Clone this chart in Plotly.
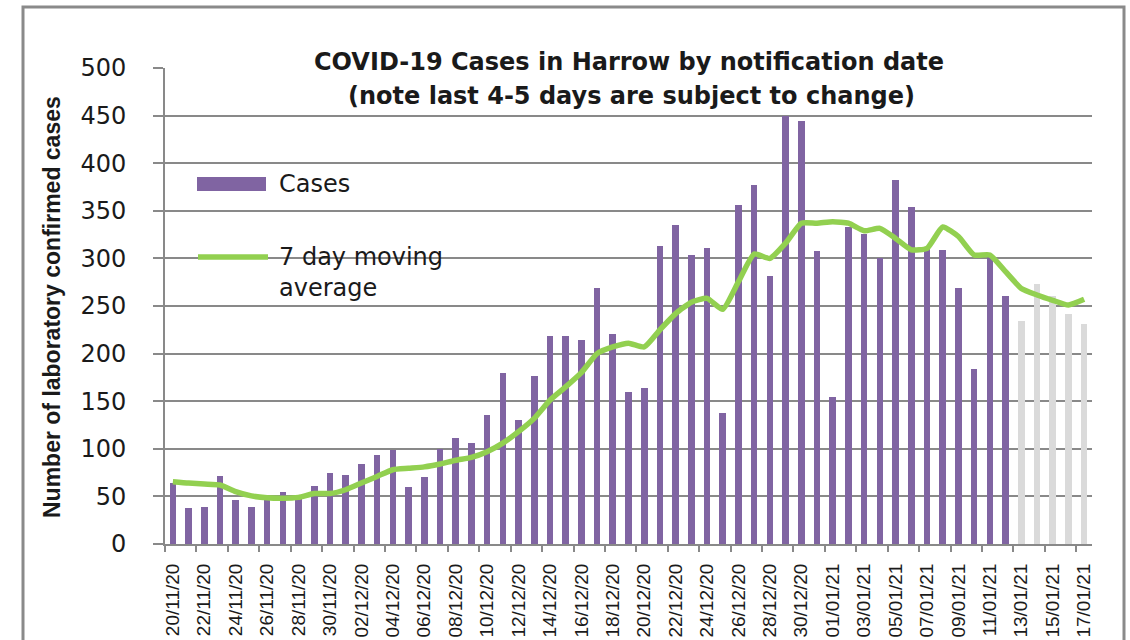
import plotly.graph_objects as go
import pandas as pd

# ---- data ----
dates = [d.strftime("%d/%m/%y") for d in pd.date_range("2020-11-20", "2021-01-17", freq="D")]
cases = [64, 38, 39, 71, 46, 39, 46, 55, 47, 61,
         75, 72, 84, 94, 99, 60, 70, 100, 111, 106,
         136, 180, 130, 177, 219, 219, 214, 269, 221, 160,
         164, 313, 335, 304, 311, 138, 356, 377, 282, 450,
         444, 308, 154, 333, 326, 300, 382, 354, 310, 309,
         269, 184, 301, 261, 234, 273, 261, 242, 231]
moving_avg = [65.5, 64, 63, 62, 55, 50.5, 48.5, 48, 49, 53,
              53, 57, 64, 71, 78, 79.5, 81, 84, 88, 91,
              97, 106, 118, 132, 151, 165, 180, 200, 207, 211,
              207, 225, 242, 254, 258, 246.5, 275.5, 304.6, 300, 316,
              337, 337, 338.6, 337, 329, 331.6, 321, 309, 310.6, 333,
              323, 303.6, 303.6, 286, 268.5, 261.6, 256, 251, 257]
n_provisional = 5
y_ticks = list(range(0, 501, 50))

title_line1 = "COVID-19 Cases in Harrow by notification date"
title_line2 = "(note last 4-5 days are subject to change)"
y_title = "Number of laboratory confirmed cases"

# ---- styles ----
PURPLE = "#8064A2"
GREYBAR = "#DADADA"
GREEN = "#92D050"
GRID = "#898989"
TXT = "#1a1a1a"

x = list(range(len(dates)))
bar_colors = [PURPLE] * (len(dates) - n_provisional) + [GREYBAR] * n_provisional

fig = go.Figure()
fig.add_trace(go.Bar(x=x, y=cases, name="Cases", marker=dict(color=bar_colors, line=dict(width=0)),
                     width=0.42, showlegend=False))
fig.add_trace(go.Scatter(x=x, y=moving_avg, name="7 day moving average", mode="lines",
                         line=dict(color=GREEN, width=5.5, shape="spline", smoothing=0.5),
                         showlegend=False))

def px_x(px):
    return (px - 165) / 927.0

def px_y(py):
    return (544 - py) / 476.0

shapes = [
    # outer chart border
    dict(type="rect", xref="paper", yref="paper", x0=px_x(23), x1=px_x(1124), y0=px_y(660), y1=px_y(7),
         line=dict(color="#8a8a8a", width=3), fillcolor="rgba(0,0,0,0)", layer="above"),
    # title background
    dict(type="rect", xref="paper", yref="paper", x0=px_x(275), x1=px_x(985), y0=px_y(110), y1=px_y(45),
         line=dict(width=0), fillcolor="white", layer="between"),
    # legend background
    dict(type="rect", xref="paper", yref="paper", x0=px_x(177), x1=px_x(487), y0=px_y(348), y1=px_y(166),
         line=dict(width=0), fillcolor="white", layer="between"),
    # legend swatches
    dict(type="rect", xref="paper", yref="paper", x0=px_x(197), x1=px_x(266), y0=px_y(191), y1=px_y(177),
         line=dict(width=0), fillcolor=PURPLE, layer="above"),
    dict(type="line", xref="paper", yref="paper", x0=px_x(198), x1=px_x(268), y0=px_y(257), y1=px_y(257),
         line=dict(color=GREEN, width=5.5), layer="above"),
]

annotations = [
    dict(text="<b>%s</b>" % title_line1, xref="paper", yref="paper", x=px_x(629), y=px_y(62),
         xanchor="center", yanchor="middle", showarrow=False,
         font=dict(family="DejaVu Sans", size=24, color=TXT)),
    dict(text="<b>%s</b>" % title_line2, xref="paper", yref="paper", x=px_x(631), y=px_y(96),
         xanchor="center", yanchor="middle", showarrow=False,
         font=dict(family="DejaVu Sans", size=24, color=TXT)),
    dict(text="<b>%s</b>" % y_title, xref="paper", yref="paper", x=px_x(52), y=px_y(307),
         xanchor="center", yanchor="middle", textangle=-90, showarrow=False,
         font=dict(family="Liberation Sans", size=23, color=TXT)),
    dict(text="Cases", xref="paper", yref="paper", x=px_x(277), y=px_y(184),
         xanchor="left", yanchor="middle", showarrow=False,
         font=dict(family="DejaVu Sans", size=24, color=TXT)),
    dict(text="7 day moving", xref="paper", yref="paper", x=px_x(277), y=px_y(257),
         xanchor="left", yanchor="middle", showarrow=False,
         font=dict(family="DejaVu Sans", size=24, color=TXT)),
    dict(text="average", xref="paper", yref="paper", x=px_x(277), y=px_y(288),
         xanchor="left", yanchor="middle", showarrow=False,
         font=dict(family="DejaVu Sans", size=24, color=TXT)),
]

fig.update_layout(
    template="none",
    width=1130, height=640,
    margin=dict(l=165, r=38, t=68, b=96, autoexpand=False),
    paper_bgcolor="white", plot_bgcolor="white",
    bargap=0, showlegend=False,
    shapes=shapes, annotations=annotations,
    xaxis=dict(range=[-0.5, len(dates) - 0.5], tickmode="array", tickvals=x[::2], ticktext=dates[::2],
               tickangle=-90, ticks="", showgrid=False, zeroline=False, automargin=False,
               showline=True, linecolor=GRID, linewidth=2, ticklabelstandoff=10,
               tickfont=dict(family="Liberation Sans", size=19, color=TXT),
               minor=dict(tickmode="array", tickvals=[i - 0.5 for i in x[::2]], ticks="outside",
                          ticklen=6, tickwidth=2, tickcolor=GRID, showgrid=False)),
    yaxis=dict(range=[0, 500], tickmode="array", tickvals=y_ticks, ticks="outside", ticklen=10,
               tickwidth=2, tickcolor=GRID, showgrid=True, gridcolor=GRID, gridwidth=2,
               zeroline=False, showline=True, linecolor=GRID, linewidth=2, automargin=False,
               ticklabelstandoff=22,
               tickfont=dict(family="DejaVu Sans", size=24, color=TXT)),
)

fig.write_html("out.html", config={"displayModeBar": False},
               post_script="document.body.style.margin='0';document.body.style.overflow='hidden';")
